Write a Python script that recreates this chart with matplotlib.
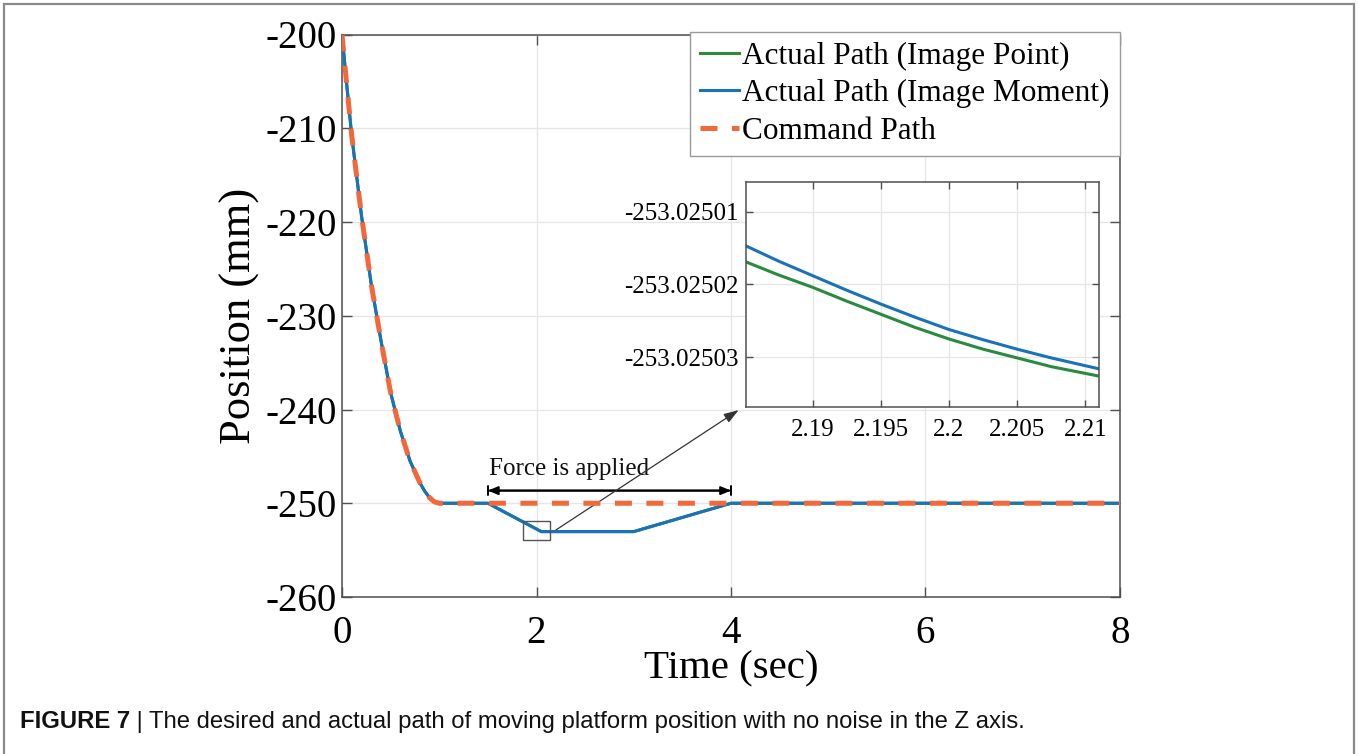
import matplotlib
matplotlib.use("Agg")
import matplotlib.pyplot as plt
from matplotlib.patches import Rectangle
import matplotlib.font_manager as fm

# ---------------- data ----------------
# approach phase
t_approach = [0.0, 0.05, 0.1, 0.2, 0.3, 0.4, 0.5, 0.6, 0.7, 0.8, 0.85, 0.9, 0.95, 1.0]
z_approach = [-200.0, -205.5, -210.8, -219.3, -226.6, -232.6, -238.2, -242.3,
              -245.5, -247.8, -248.7, -249.4, -249.85, -250.0]

# after approach: command path is flat
t_cmd_tail = [1.0, 8.0]
z_cmd_tail = [-250.0, -250.0]

# actual path (image moment / image point) after approach: force disturbance
t_act_tail = [1.0, 1.5, 2.05, 3.0, 4.0, 8.0]
z_act_tail = [-250.0, -250.0, -253.025, -253.025, -250.0, -250.0]

# zoomed detail (inset)
t_zoom = [2.1851, 2.1875, 2.19, 2.1925, 2.195, 2.1975, 2.2, 2.2025, 2.205, 2.2075, 2.211]
z_zoom_moment = [-253.0250147, -253.0250168, -253.0250188, -253.0250208, -253.0250227,
                 -253.0250245, -253.0250262, -253.0250276, -253.0250289, -253.0250301,
                 -253.0250316]
z_zoom_point = [-253.0250169, -253.0250187, -253.0250204, -253.0250223, -253.0250241,
                -253.0250259, -253.0250275, -253.0250289, -253.0250301, -253.0250313,
                -253.0250326]

xticks_main = [0, 2, 4, 6, 8]
yticks_main = [-200, -210, -220, -230, -240, -250, -260]
xticks_zoom = [2.19, 2.195, 2.2, 2.205, 2.21]
xticklabels_zoom = ["2.19", "2.195", "2.2", "2.205", "2.21"]
yticks_zoom = [-253.02501, -253.02502, -253.02503]
yticklabels_zoom = ["-253.02501", "-253.02502", "-253.02503"]

legend_labels = ["Actual Path (Image Point)", "Actual Path (Image Moment)", "Command Path"]
caption_bold = "FIGURE 7"
caption_rest = " | The desired and actual path of moving platform position with no noise in the Z axis."

# ---------------- style ----------------
GREEN = "#2a8a3e"
BLUE = "#1a72b8"
ORANGE = "#f3683a"
SPINE = "#505050"
GRID = "#e6e6e6"
SERIF = ["Liberation Serif", "DejaVu Serif"]

W, H = 1359, 754
fig = plt.figure(figsize=(W / 100, H / 100), dpi=100)

def px(x0, y0, x1, y1):
    return [x0 / W, 1 - y1 / H, (x1 - x0) / W, (y1 - y0) / H]

# ---------- figure border ----------
fig.patches.append(Rectangle((4 / W, -0.05), (1354 - 4) / W, 1.05 - 4 / H,
                             transform=fig.transFigure, fill=False,
                             edgecolor="#8a8a8a", linewidth=1.6))

# ---------- main axes ----------
ax = fig.add_axes(px(342, 34.5, 1120, 597))
t_full = t_approach + t_act_tail[1:]
z_pt = z_approach + z_act_tail[1:]
z_mo = z_approach + z_act_tail[1:]
t_cmd = t_approach + t_cmd_tail[1:]
z_cmd = z_approach + z_cmd_tail[1:]

l1, = ax.plot(t_full, z_pt, color=GREEN, lw=2.2, zorder=3)
l2, = ax.plot(t_full, z_mo, color=BLUE, lw=2.2, zorder=4)
l3, = ax.plot(t_cmd, z_cmd, color=ORANGE, lw=3.6, zorder=5, dashes=(3.4, 2.9))

ax.set_xlim(0, 8)
ax.set_ylim(-260, -200)
ax.set_xticks(xticks_main)
ax.set_yticks(yticks_main)
ax.set_xticklabels([str(v) for v in xticks_main], fontfamily=SERIF, fontsize=28)
ax.set_yticklabels([str(v) for v in yticks_main], fontfamily=SERIF, fontsize=28)
ax.tick_params(direction="in", top=True, right=True, length=7, width=1,
               color=SPINE, pad=4)
ax.tick_params(axis="x", pad=13)
for s in ax.spines.values():
    s.set_color(SPINE)
    s.set_linewidth(1.1)
ax.grid(True, color=GRID, lw=1)
ax.set_axisbelow(True)
ax.set_xlabel("Time (sec)", fontfamily=SERIF, fontsize=29.5, labelpad=-1)
ax.set_ylabel("Position (mm)", fontfamily=SERIF, fontsize=32, labelpad=4)

# force annotation
ax.annotate("", xy=(1.5, -248.65), xytext=(4.0, -248.65),
            arrowprops=dict(arrowstyle="|-|,widthA=0.35,widthB=0.35", color="black", lw=1.4,
                            shrinkA=0, shrinkB=0))
ax.annotate("", xy=(1.5, -248.65), xytext=(4.0, -248.65),
            arrowprops=dict(arrowstyle="<|-|>,head_length=0.6,head_width=0.25",
                            color="black", lw=1.4, shrinkA=0, shrinkB=0))
ax.text(1.51, -246.95, "Force is applied", fontfamily=SERIF, fontsize=18,
        ha="left", va="baseline", color="#111111")

# zoom rectangle
ax.add_patch(Rectangle((1.86, -253.9), 0.28, 2.0, fill=False,
                       edgecolor="#555555", lw=1.0, zorder=6))

# legend
leg = fig.legend([l1, l2, l3], legend_labels,
                 loc="upper right", bbox_to_anchor=(1120 / W, 1 - 31.5 / H),
                 prop=fm.FontProperties(family=SERIF, size=22.5),
                 frameon=True, fancybox=False, framealpha=1,
                 edgecolor="#9a9a9a", handlelength=1.25, handletextpad=0.12,
                 labelspacing=0.27, borderpad=0.32, borderaxespad=0)
leg.get_frame().set_linewidth(1.0)

# ---------- inset ----------
axi = fig.add_axes(px(745.7, 181.7, 1099, 406.7))
axi.plot(t_zoom, z_zoom_point, color=GREEN, lw=2.2)
axi.plot(t_zoom, z_zoom_moment, color=BLUE, lw=2.2)
axi.set_xlim(2.1851, 2.2110)
axi.set_ylim(-253.0250368, -253.0250059)
axi.set_xticks(xticks_zoom)
axi.set_xticklabels(xticklabels_zoom, fontfamily=SERIF, fontsize=18)
axi.set_yticks(yticks_zoom)
axi.set_yticklabels(yticklabels_zoom, fontfamily=SERIF, fontsize=18)
axi.tick_params(direction="in", top=True, right=True, length=5, width=1,
                color=SPINE, pad=5)
axi.tick_params(axis="x", pad=9)
for s in axi.spines.values():
    s.set_color(SPINE)
    s.set_linewidth(1.1)
axi.grid(True, color=GRID, lw=1)
axi.set_axisbelow(True)

# arrow from rectangle to inset
ax.annotate("", xy=(-0.02, -0.015), xycoords=axi.transAxes,
            xytext=(2.20, -252.85), textcoords="data",
            arrowprops=dict(arrowstyle="-|>,head_length=0.9,head_width=0.3",
                            color="#333333", lw=0.9, shrinkA=0, shrinkB=0),
            annotation_clip=False)

# ---------- caption ----------
cap_font = ["Liberation Sans", "DejaVu Sans"]
tb = fig.text(20 / W, 1 - 722 / H, caption_bold, fontfamily=cap_font, fontweight="bold",
              fontsize=17.2, va="center", ha="left", color="#111111")
fig.canvas.draw()
bb = tb.get_window_extent()
fig.text(bb.x1 / W, 1 - 722 / H, caption_rest, fontfamily=cap_font,
         fontsize=17.2, va="center", ha="left", color="#111111")

fig.savefig("out.png", dpi=100)
